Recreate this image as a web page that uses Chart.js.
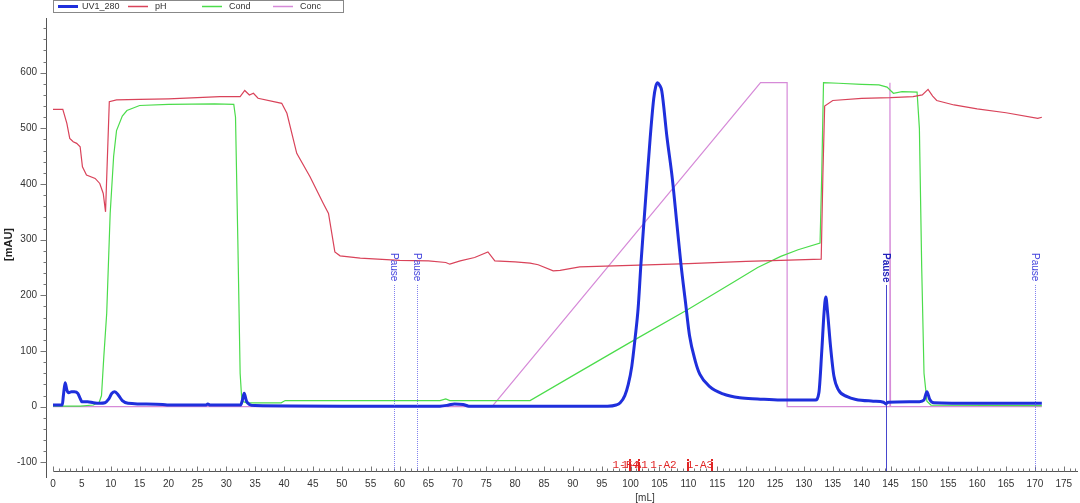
<!DOCTYPE html>
<html>
<head>
<meta charset="utf-8">
<script src="https://cdn.jsdelivr.net/npm/chart.js@4.4.1/dist/chart.umd.min.js"></script>
<style>
    html, body { margin: 0; padding: 0; background: #fff; }
    #wrap { width: 1080px; height: 503px; }
</style>
</head>
<body>
<div id="wrap"><canvas id="chrom" width="1080" height="503"></canvas></div>
<script>
// ==========================================
// CHROMATOGRAM DATA (volume in mL)
// ==========================================

const uvVolume = [0, 1.6, 1.8, 2.1, 2.4, 2.7, 3.2, 3.7, 4.3, 4.7, 5.0, 6.0, 7.0, 8.1, 9.0, 9.6, 10.2, 10.7, 11.3, 12.0, 13.0, 15, 19, 20, 26.5, 26.8, 27.2, 32.5, 32.8, 33.1, 33.5, 34.0, 35, 50, 60, 67, 68.5, 69.5, 71, 72, 96, 97.5, 98.2, 99.0, 99.6, 100.2, 100.8, 101.3, 101.8, 102.3, 102.8, 103.4, 104.0, 104.35, 104.7, 105.05, 105.4, 106.3, 107.2, 108.0, 108.7, 109.5, 110.2, 111.2, 112.0, 113.7, 116, 118.9, 122, 126, 132, 132.6, 133.1, 133.5, 133.8, 134.1, 134.6, 135.2, 136, 137.5, 139, 142, 143.8, 144.2, 144.6, 150, 150.8, 151.3, 151.8, 152.5, 160, 171.2];
const uvAbs = [3, 3, 20, 43, 30, 25, 27, 27, 24, 15, 9, 9, 7, 6, 7, 13, 24, 27, 21, 11, 6, 5, 4, 3, 3, 5, 3, 3, 12, 24, 10, 4, 2, 1, 1, 1, 3, 5, 4, 1, 1, 3, 7, 20, 40, 72, 125, 176, 258, 330, 401, 484, 553, 575, 582, 577, 567, 484, 412, 330, 258, 188, 128, 82, 58, 36, 23, 16, 14, 12, 12, 25, 100, 170, 197, 170, 110, 55, 30, 18, 13, 10, 8, 5, 8, 9, 12, 27, 13, 7, 6, 6];

const phVolume = [0, 1.7, 2.4, 2.9, 3.5, 4.1, 4.7, 5.1, 5.8, 7.3, 8.1, 8.7, 9.1, 9.75, 11, 15, 20, 25, 28.9, 32.4, 33.2, 34.0, 34.7, 35.5, 39.6, 40.5, 42.2, 44.5, 46.8, 47.7, 48.8, 49.7, 53.2, 60, 65, 68, 68.7, 70.5, 73, 75.3, 76.5, 80, 82.6, 84, 86.6, 87.8, 91.2, 100, 110, 120, 126, 133.0, 133.3, 133.6, 135, 140, 145, 148.9, 150.5, 151.5, 152.3, 153, 156, 160, 165, 170.5, 171.2];
const phValue = [534, 534, 509, 482, 476, 473, 467, 431, 416, 410, 401, 383, 350, 548, 551, 552, 553, 555, 557, 557, 568, 560, 563, 554, 545, 527, 455, 413, 365, 347, 278, 271, 267, 263, 262, 259, 256, 262, 268, 278, 262, 260, 258, 255, 244, 245, 251, 254, 257, 261, 263, 265, 420, 540, 550, 554, 555, 557, 560, 570, 558, 550, 542, 535, 528, 518, 520];

const condVolume = [0, 4.7, 7, 8, 8.4, 8.8, 9.3, 9.9, 10.5, 11.0, 12.0, 12.8, 15, 20, 28, 31.3, 31.6, 32.0, 32.4, 32.7, 33.5, 39.5, 40.2, 67, 68, 68.7, 82.6, 91.2, 100, 110, 118, 122, 126, 129, 132.8, 133.1, 133.4, 136, 140, 143, 144.4, 145.5, 147, 149.6, 150, 150.4, 150.8, 151.3, 152, 171.2];
const condValue = [1, 1, 3, 8, 20, 90, 168, 347, 450, 496, 522, 532, 541, 543, 544, 543, 520, 300, 60, 10, 7, 7, 11, 11, 14, 11, 11, 63, 116, 175, 225, 250, 270, 282, 294, 420, 582, 581, 579, 578, 574, 563, 566, 565, 500, 250, 60, 10, 3, 2];

const concVolume = [0, 76.0, 122.5, 127.1, 127.1, 144.9, 144.9, 145.0, 171.2];
const concValue = [0, 0, 582, 582, 0, 0, 582, 0, 0];

const xTicks = [0, 5, 10, 15, 20, 25, 30, 35, 40, 45, 50, 55, 60, 65, 70, 75, 80, 85, 90, 95, 100, 105, 110, 115, 120, 125, 130, 135, 140, 145, 150, 155, 160, 165, 170, 175];
const yTicks = [-100, 0, 100, 200, 300, 400, 500, 600];

// run events and fractions
const pauseVolume = [59.1, 63.1, 144.2, 170.0];
const fractionMarks = [99.9, 101.5, 109.9, 114.1];
const fractionLabels = ['1-F4', '1-A1', '1-A2', '1-A3'];

const seriesNames = ['UV1_280', 'pH', 'Cond', 'Conc'];

const FONT = "'Liberation Sans', Arial, sans-serif";

function toPoints(xs, ys) {
    return xs.map((x, i) => ({ x: x, y: ys[i] }));
}

// Axis lines, minor ticks, event marks and the boxed legend
const chromOverlay = {
    id: 'chromOverlay',
    afterDatasetsDraw(chart) {
        const { ctx, chartArea } = chart;
        const xs = chart.scales.x;
        const ys = chart.scales.y;
        const yb = Math.round(chartArea.bottom) + 0.5;
        const yl = Math.round(chartArea.left) + 0.5;

        ctx.save();

        // axis lines
        ctx.strokeStyle = '#555';
        ctx.lineWidth = 1;
        ctx.beginPath();
        ctx.moveTo(Math.round(xs.getPixelForValue(0)) + 0.5, yb);
        ctx.lineTo(chartArea.right, yb);
        ctx.moveTo(yl, chartArea.top);
        ctx.lineTo(yl, chartArea.bottom + 7);
        ctx.stroke();

        // minor ticks
        ctx.strokeStyle = '#777';
        ctx.beginPath();
        for (let v = 0; v <= xs.max; v++) {
            const px = Math.round(xs.getPixelForValue(v)) + 0.5;
            ctx.moveTo(px, yb);
            ctx.lineTo(px, yb - (v % 5 === 0 ? 5 : 3));
        }
        for (let v = -100; v <= ys.max; v += 20) {
            const py = Math.round(ys.getPixelForValue(v)) + 0.5;
            ctx.moveTo(yl, py);
            ctx.lineTo(yl - (v % 100 === 0 ? 6 : 3), py);
        }
        ctx.stroke();

        // pause events
        pauseVolume.forEach((v, i) => {
            const px = Math.round(xs.getPixelForValue(v)) + 0.5;
            const strong = i === 2;
            ctx.strokeStyle = strong ? 'rgba(50,50,200,0.9)' : 'rgba(90,90,235,0.75)';
            ctx.setLineDash(strong ? [] : [1, 1]);
            ctx.beginPath();
            ctx.moveTo(px, 285);
            ctx.lineTo(px, chartArea.bottom);
            ctx.stroke();
            ctx.setLineDash([]);

            ctx.save();
            ctx.translate(px - 1, 253);
            ctx.rotate(Math.PI / 2);
            ctx.fillStyle = strong ? '#2222bb' : '#4444dd';
            ctx.font = (strong ? 'bold ' : '') + '10px ' + FONT;
            ctx.textAlign = 'left';
            ctx.textBaseline = 'middle';
            ctx.fillText('Pause', 0, 0);
            ctx.restore();
        });

        // fraction marks
        ctx.fillStyle = '#e02424';
        fractionMarks.forEach(v => {
            const px = Math.round(xs.getPixelForValue(v));
            ctx.fillRect(px - 1, chartArea.bottom - 9, 2, 9);
            ctx.fillRect(px - 1, chartArea.bottom - 12, 2, 2);
        });
        ctx.font = '11px "Liberation Mono", monospace';
        ctx.textAlign = 'center';
        ctx.textBaseline = 'middle';
        const edges = [98.4].concat(fractionMarks);
        fractionLabels.forEach((lab, i) => {
            const mid = (edges[i] + edges[i + 1]) / 2;
            ctx.fillText(lab, xs.getPixelForValue(mid), chartArea.bottom - 6);
        });

        // x axis title
        ctx.fillStyle = '#333';
        ctx.font = '10px ' + FONT;
        ctx.fillText('[mL]', 645, 498);

        // legend box
        ctx.fillStyle = '#fff';
        ctx.fillRect(53, 0, 291, 13);
        ctx.strokeStyle = '#888';
        ctx.lineWidth = 1;
        ctx.strokeRect(53.5, 0.5, 290, 12);
        const legendX = [58, 128, 202, 273];
        ctx.textAlign = 'left';
        ctx.font = '9px ' + FONT;
        chart.data.datasets.forEach((ds, i) => {
            ctx.strokeStyle = ds.borderColor;
            ctx.lineWidth = i === 0 ? 3 : 1.5;
            ctx.beginPath();
            ctx.moveTo(legendX[i], 6.5);
            ctx.lineTo(legendX[i] + 20, 6.5);
            ctx.stroke();
            ctx.fillStyle = '#333';
            ctx.fillText(ds.label, legendX[i] + (i === 0 ? 24 : 27), 7);
        });

        ctx.restore();
    }
};

const chart = new Chart(document.getElementById('chrom'), {
    type: 'line',
    data: {
        datasets: [
            {
                label: seriesNames[0],
                data: toPoints(uvVolume, uvAbs),
                borderColor: '#1f2fdc',
                borderWidth: 3,
                cubicInterpolationMode: 'monotone'
            },
            {
                label: seriesNames[1],
                data: toPoints(phVolume, phValue),
                borderColor: '#d9435a',
                borderWidth: 1.2,
                tension: 0
            },
            {
                label: seriesNames[2],
                data: toPoints(condVolume, condValue),
                borderColor: '#4bdc4b',
                borderWidth: 1.2,
                tension: 0
            },
            {
                label: seriesNames[3],
                data: toPoints(concVolume, concValue),
                borderColor: '#d68ad8',
                borderWidth: 1.2,
                tension: 0
            }
        ]
    },
    options: {
        responsive: false,
        devicePixelRatio: 1,
        animation: false,
        elements: { point: { radius: 0 } },
        layout: { padding: { top: 18, right: 2, left: 0, bottom: 0 } },
        plugins: {
            legend: { display: false },
            tooltip: { enabled: false }
        },
        scales: {
            x: {
                type: 'linear',
                min: -1.21,
                max: 177.46,
                grid: { display: false, drawTicks: false },
                border: { display: false },
                ticks: {
                    padding: 7,
                    color: '#333',
                    font: { family: FONT, size: 10 },
                    maxRotation: 0,
                    autoSkip: false
                },
                afterBuildTicks: s => { s.ticks = xTicks.map(v => ({ value: v })); },
                afterFit: s => { s.height = 32; }
            },
            y: {
                min: -115.5,
                max: 698.2,
                grid: { display: false, drawTicks: false },
                border: { display: false },
                ticks: {
                    padding: 9,
                    color: '#333',
                    font: { family: FONT, size: 10 }
                },
                title: {
                    display: true,
                    text: '[mAU]',
                    color: '#222',
                    font: { family: FONT, size: 11, weight: 'bold' },
                    padding: { top: 2, bottom: 0 }
                },
                afterBuildTicks: s => { s.ticks = yTicks.map(v => ({ value: v })); },
                afterFit: s => { s.width = 46; }
            }
        }
    },
    plugins: [chromOverlay]
});
</script>
</body>
</html>
